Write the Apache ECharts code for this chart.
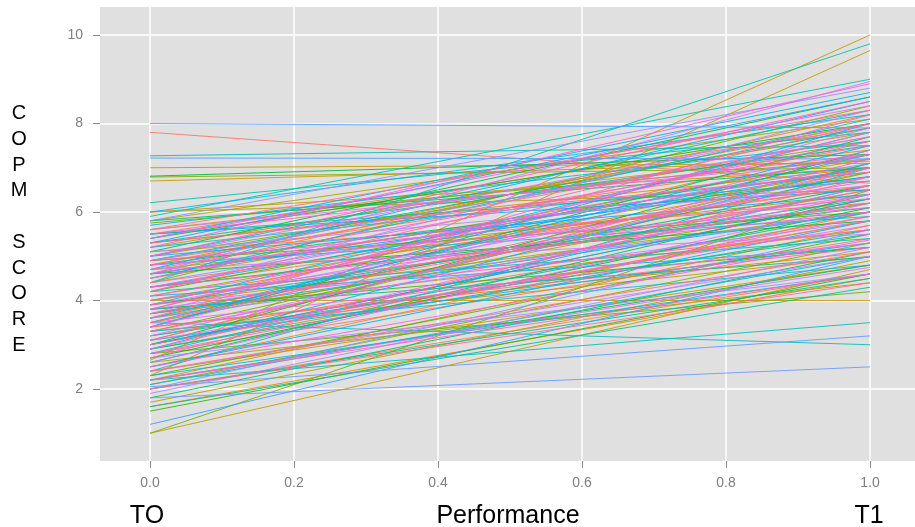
<!DOCTYPE html>
<html>
<head>
<meta charset="utf-8">
<script src="https://cdn.jsdelivr.net/npm/echarts@6/dist/echarts.min.js"></script>
<style>
html,body{margin:0;padding:0;background:#fff;}
#chart{width:915px;height:527px;}
</style>
</head>
<body>
<div id="chart"></div>
<script>
// COPM performance score per participant at T0 (x = 0) and T1 (x = 1)
const t0Scores = [
  3.6,7.8,2.8,4.9,3.2,5.5,2.0,4.3,3.8,5.1,2.5,4.6,3.4,1.6,5.3,4.0,2.2,3.0,4.8,3.7,
  5.6,2.4,3.3,6.0,4.0,6.7,7.0,1.0,2.65,2.3,
  4.5,3.9,6.0,2.9,5.2,1.7,4.1,3.5,5.8,2.6,4.7,3.1,6.79,2.1,5.0,3.6,1.0,4.4,2.8,5.75,
  3.3,4.9,2.3,4.2,3.8,1.5,5.4,2.7,4.6,3.0,
  6.81,3.7,5.1,2.2,4.3,3.4,5.8,2.6,4.8,1.8,3.8,3.9,4.9,2.9,5.3,1.6,5.5,2.0,3.0,4.6,
  3.2,5.0,4.2,6.21,7.27,4.4,5.9,3.5,2.2,2.4,
  3.6,5.2,2.1,4.5,3.3,2.3,5.7,4.0,2.8,4.8,3.9,6.0,3.7,5.4,3.1,4.1,4.3,2.9,2.5,5.0,
  3.5,4.7,5.5,3.4,4.6,3.0,5.3,1.2,7.22,8.0,
  2.05,1.8,2.0,4.4,3.8,5.8,2.7,4.9,3.6,1.9,4.2,5.1,3.2,4.6,2.4,5.6,3.9,4.7,2.6,3.4,
  5.0,4.0,2.2,3.7,4.8,3.1,5.4,4.3,2.9,3.5,
  4.5,3.3,5.2,2.5,4.1,3.8,4.9,2.8,4.6,3.6,5.5,2.2,4.3,3.1,5.0,3.9,4.7,2.7,3.4,5.3,
  4.2,2.0,3.7,4.8,3.0,5.6,4.0,2.4,3.5,4.4
];
const t1Scores = [
  6.8,6.65,5.4,7.3,5.9,7.9,4.6,6.6,7.6,6.2,6.0,8.2,5.1,4.5,7.0,6.9,5.7,6.3,8.0,5.6,
  7.4,4.8,5.0,7.0,4.0,7.15,7.1,4.7,10.0,9.65,
  7.2,6.0,6.5,5.8,7.8,4.9,7.0,6.5,8.1,4.4,6.4,7.1,7.0,5.3,7.6,6.2,6.5,8.4,4.2,7.2,
  6.9,6.0,5.5,7.3,5.2,4.6,8.0,6.1,5.8,7.4,
  7.3,6.6,8.6,4.8,6.1,7.7,7.0,6.4,6.8,5.1,4.98,6.3,7.9,5.6,7.5,4.3,6.7,4.5,6.0,7.0,
  5.5,8.3,5.4,7.8,7.5,9.8,9.0,3.0,3.5,7.0,
  7.3,6.9,5.0,8.1,4.8,4.6,7.6,6.2,6.6,5.9,7.8,8.2,6.0,8.7,5.3,5.2,7.0,7.1,5.8,6.4,
  7.5,8.5,6.5,8.0,6.8,6.3,8.6,5.0,7.2,7.9,
  3.2,2.5,5.6,7.1,6.0,8.8,4.6,7.7,5.8,5.2,8.3,6.6,7.0,8.95,5.0,7.2,6.8,5.5,6.2,7.4,
  8.0,6.4,4.75,7.9,6.1,5.7,8.4,7.3,6.6,5.3,
  7.6,6.4,8.9,5.37,6.7,7.8,6.3,5.9,7.0,8.2,7.3,4.6,6.0,7.2,8.5,5.6,7.5,6.8,5.2,6.9,
  8.0,4.4,6.5,7.7,5.8,8.3,6.2,5.1,7.0,6.6
];
const timePoints = [0, 1];
const xTickLabels = ['0.0', '0.2', '0.4', '0.6', '0.8', '1.0'];

// ggplot2 default hue palette (HCL, c=100, l=65)
function hcl(h, c, l) {
  const hr = h * Math.PI / 180;
  const U = c * Math.cos(hr), V = c * Math.sin(hr);
  const Xn = 95.047, Yn = 100, Zn = 108.883;
  const den = Xn + 15 * Yn + 3 * Zn;
  const un = 4 * Xn / den, vn = 9 * Yn / den;
  const Y = l > 8 ? Yn * Math.pow((l + 16) / 116, 3) : Yn * l / 903.3;
  const u = U / (13 * l) + un, v = V / (13 * l) + vn;
  const X = 9 * Y * u / (4 * v);
  const Z = -X / 3 - 5 * Y + 3 * Y / v;
  const x = X / 100, y = Y / 100, z = Z / 100;
  const lin = [
    3.240479 * x - 1.537150 * y - 0.498535 * z,
    -0.969256 * x + 1.875992 * y + 0.041556 * z,
    0.055648 * x - 0.204043 * y + 1.057311 * z
  ];
  const g = lin.map(t => {
    const s = t <= 0.0031308 ? 12.92 * t : 1.055 * Math.pow(t, 1 / 2.4) - 0.055;
    return Math.round(Math.max(0, Math.min(1, s)) * 255);
  });
  return 'rgb(' + g.join(',') + ')';
}

const n = t0Scores.length;
const series = t0Scores.map((s, i) => ({
  type: 'line',
  xAxisIndex: 1,
  yAxisIndex: 1,
  data: [[timePoints[0], s], [timePoints[1], t1Scores[i]]],
  symbol: 'none',
  silent: true,
  lineStyle: { width: 1, color: hcl(15 + 360 * i / n, 100, 65), opacity: 0.88 },
  z: 2
}));

const FONT = 'Liberation Sans, Arial, Helvetica, sans-serif';
const tickColor = '#8a8a8a';

const chart = echarts.init(document.getElementById('chart'), null, { renderer: 'canvas' });
chart.setOption({
  animation: false,
  backgroundColor: '#ffffff',
  grid: [
    { left: 100, right: 0, top: 7, bottom: 66, show: true, backgroundColor: '#E0E0E0', borderWidth: 0 },
    { left: 150, right: 45, top: 7, bottom: 66 },
    { left: 100, right: 0, top: 35, bottom: 138 }
  ],
  xAxis: [
    { gridIndex: 0, type: 'value', show: false, min: 0, max: 1 },
    {
      gridIndex: 1, type: 'value', min: 0, max: 1, interval: 0.2,
      axisLine: { show: false },
      axisTick: { show: true, length: 7, lineStyle: { color: tickColor, width: 1 } },
      axisLabel: {
        margin: 15, color: '#7f7f7f', fontSize: 14, fontFamily: FONT,
        formatter: v => xTickLabels[Math.round(v / 0.2)]
      },
      splitLine: { show: true, lineStyle: { color: '#ffffff', width: 1.5 } }
    },
    { gridIndex: 2, type: 'value', show: false, min: 0, max: 1 }
  ],
  yAxis: [
    { gridIndex: 0, type: 'value', show: false, min: 0, max: 1 },
    { gridIndex: 1, type: 'value', show: false, min: 0.373, max: 10.633 },
    {
      gridIndex: 2, type: 'value', min: 2, max: 10, interval: 2,
      axisLine: { show: false },
      axisTick: { show: true, length: 7, lineStyle: { color: tickColor, width: 1 } },
      axisLabel: { margin: 17, color: '#7f7f7f', fontSize: 14, fontFamily: FONT },
      splitLine: { show: true, lineStyle: { color: '#ffffff', width: 1.5 } }
    }
  ],
  graphic: [
    {
      type: 'text', x: 19, y: 229.5,
      style: {
        text: 'C\nO\nP\nM\n\nS\nC\nO\nR\nE',
        fontSize: 20, lineHeight: 25.7, fontFamily: FONT, fill: '#000',
        align: 'center', verticalAlign: 'middle'
      }
    },
    { type: 'text', x: 147, y: 516, style: { text: 'TO', fontSize: 25, fontFamily: FONT, fill: '#000', align: 'center', verticalAlign: 'middle' } },
    { type: 'text', x: 508, y: 516, style: { text: 'Performance', fontSize: 25, fontFamily: FONT, fill: '#000', align: 'center', verticalAlign: 'middle' } },
    { type: 'text', x: 869, y: 516, style: { text: 'T1', fontSize: 25, fontFamily: FONT, fill: '#000', align: 'center', verticalAlign: 'middle' } }
  ],
  series: series
});
</script>
</body>
</html>
